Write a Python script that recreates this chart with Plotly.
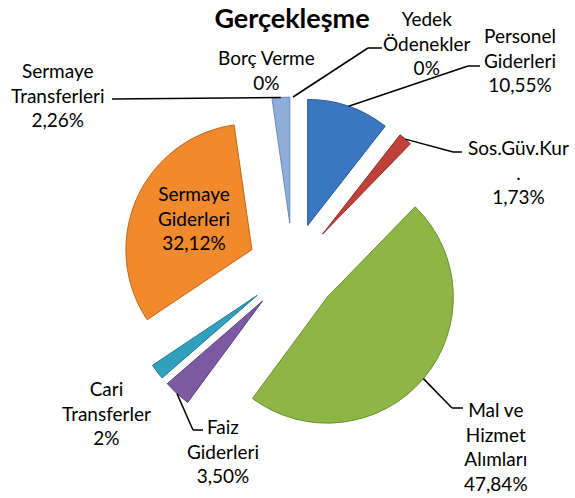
import math
import plotly.graph_objects as go

# ---------------- data ----------------
categories = ["Personel Giderleri", "Sos.Güv.Kur.", "Mal ve Hizmet Alımları",
              "Faiz Giderleri", "Cari Transferler", "Sermaye Giderleri",
              "Sermaye Transferleri", "Borç Verme", "Yedek Ödenekler"]
values = [10.55, 1.73, 47.84, 3.50, 2, 32.12, 2.26, 0, 0]
label_names = ["Personel<br>Giderleri", "Sos.Güv.Kur<br>.", "Mal ve<br>Hizmet<br>Alımları",
               "Faiz<br>Giderleri", "Cari<br>Transferler", "Sermaye<br>Giderleri",
               "Sermaye<br>Transferleri", "Borç Verme", "Yedek<br>Ödenekler"]
title_text = "Gerçekleşme"

# ---------------- styles ----------------
colors = ["#3B76C0", "#C0403A", "#8DB646", "#7B5AA1", "#2FA0BE",
          "#F08A2C", "#8EADD9", "#4F81BD", "#C0504D"]
edge_colors = ["#2A5A98", "#8E2A25", "#6A8E2E", "#5A3F7E", "#1F7A93",
               "#C0661A", "#6C8CBC", "#2A5A98", "#8E2A25"]

W, H = 575, 498
BOX = (122, 97, 464, 439)      # pie domain box in px (x0, y0, x1, y1)
PULL = 0.357
FONT = "Lato"
FS = 19

# label centres (px) and leader-line elbows (px)
label_pos = {
    "Personel Giderleri": (520, 60),
    "Sos.Güv.Kur.": (518, 172),
    "Mal ve Hizmet Alımları": (496, 446),
    "Faiz Giderleri": (223, 451),
    "Cari Transferler": (106, 413),
    "Sermaye Giderleri": (194, 218),
    "Sermaye Transferleri": (57, 95),
    "Borç Verme": (266, 70),
    "Yedek Ödenekler": (427, 43),
}
leaders = {
    "Personel Giderleri": [(468, 66), (480, 66)],
    "Sos.Güv.Kur.": [(453, 152), (462, 152)],
    "Mal ve Hizmet Alımları": [(452, 408), (463, 408)],
    "Faiz Giderleri": [(193, 430), (203, 430)],
    "Sermaye Transferleri": [(112, 99)],
    "Yedek Ödenekler": [(368, 48), (382, 48)],
}


def px(x):
    return x / W


def py(y):
    return 1 - y / H


def fmt(v):
    if float(v).is_integer():
        return f"{int(v)}%"
    return f"{v:.2f}".replace(".", ",") + "%"


edge_widths = [1 if v > 0 else 0 for v in values]

fig = go.Figure(go.Pie(
    labels=categories,
    values=values,
    sort=False,
    direction="clockwise",
    rotation=0,
    pull=[PULL] * len(values),
    marker=dict(colors=colors, line=dict(color=edge_colors, width=edge_widths)),
    textinfo="none",
    hoverinfo="label+percent",
    showlegend=False,
    domain=dict(x=[px(BOX[0]), px(BOX[2])], y=[py(BOX[3]), py(BOX[1])]),
))

# pie geometry (as plotly computes it)
cx = (BOX[0] + BOX[2]) / 2
cy = (BOX[1] + BOX[3]) / 2
r = min(BOX[2] - BOX[0], BOX[3] - BOX[1]) / (2 + 2 * PULL)
total = sum(values)

annotations = []
shapes = []
cum = 0.0
for name, lab, v in zip(categories, label_names, values):
    a0 = cum / total * 360
    cum += v
    a1 = cum / total * 360
    mid = math.radians((a0 + a1) / 2)
    dx, dy = math.sin(mid), -math.cos(mid)
    ax = cx + r * PULL * dx + r * dx
    ay = cy + r * PULL * dy + r * dy
    lx, ly = label_pos[name]
    annotations.append(dict(
        x=px(lx), y=py(ly), xref="paper", yref="paper",
        text=f"{lab}<br>{fmt(v)}", showarrow=False,
        xanchor="center", yanchor="middle", align="center",
        font=dict(family=FONT, size=FS, color="#000000"),
    ))
    if name in leaders:
        pts = [(ax, ay)] + leaders[name]
        for (x0, y0), (x1, y1) in zip(pts[:-1], pts[1:]):
            shapes.append(dict(
                type="line", xref="paper", yref="paper",
                x0=px(x0), y0=py(y0), x1=px(x1), y1=py(y1),
                line=dict(color="#000000", width=1.5),
            ))

fig.update_layout(
    width=W, height=H,
    margin=dict(l=0, r=0, t=0, b=0),
    paper_bgcolor="#FFFFFF",
    plot_bgcolor="#FFFFFF",
    title=dict(text=f"<b>{title_text}</b>", x=px(292), xanchor="center",
               y=py(19), yanchor="middle",
               font=dict(family=FONT, size=27, color="#000000")),
    annotations=annotations,
    shapes=shapes,
)

fig.write_html(
    "out.html",
    config={"displayModeBar": False},
    post_script="document.body.style.margin='0';document.body.style.overflow='hidden';",
)
